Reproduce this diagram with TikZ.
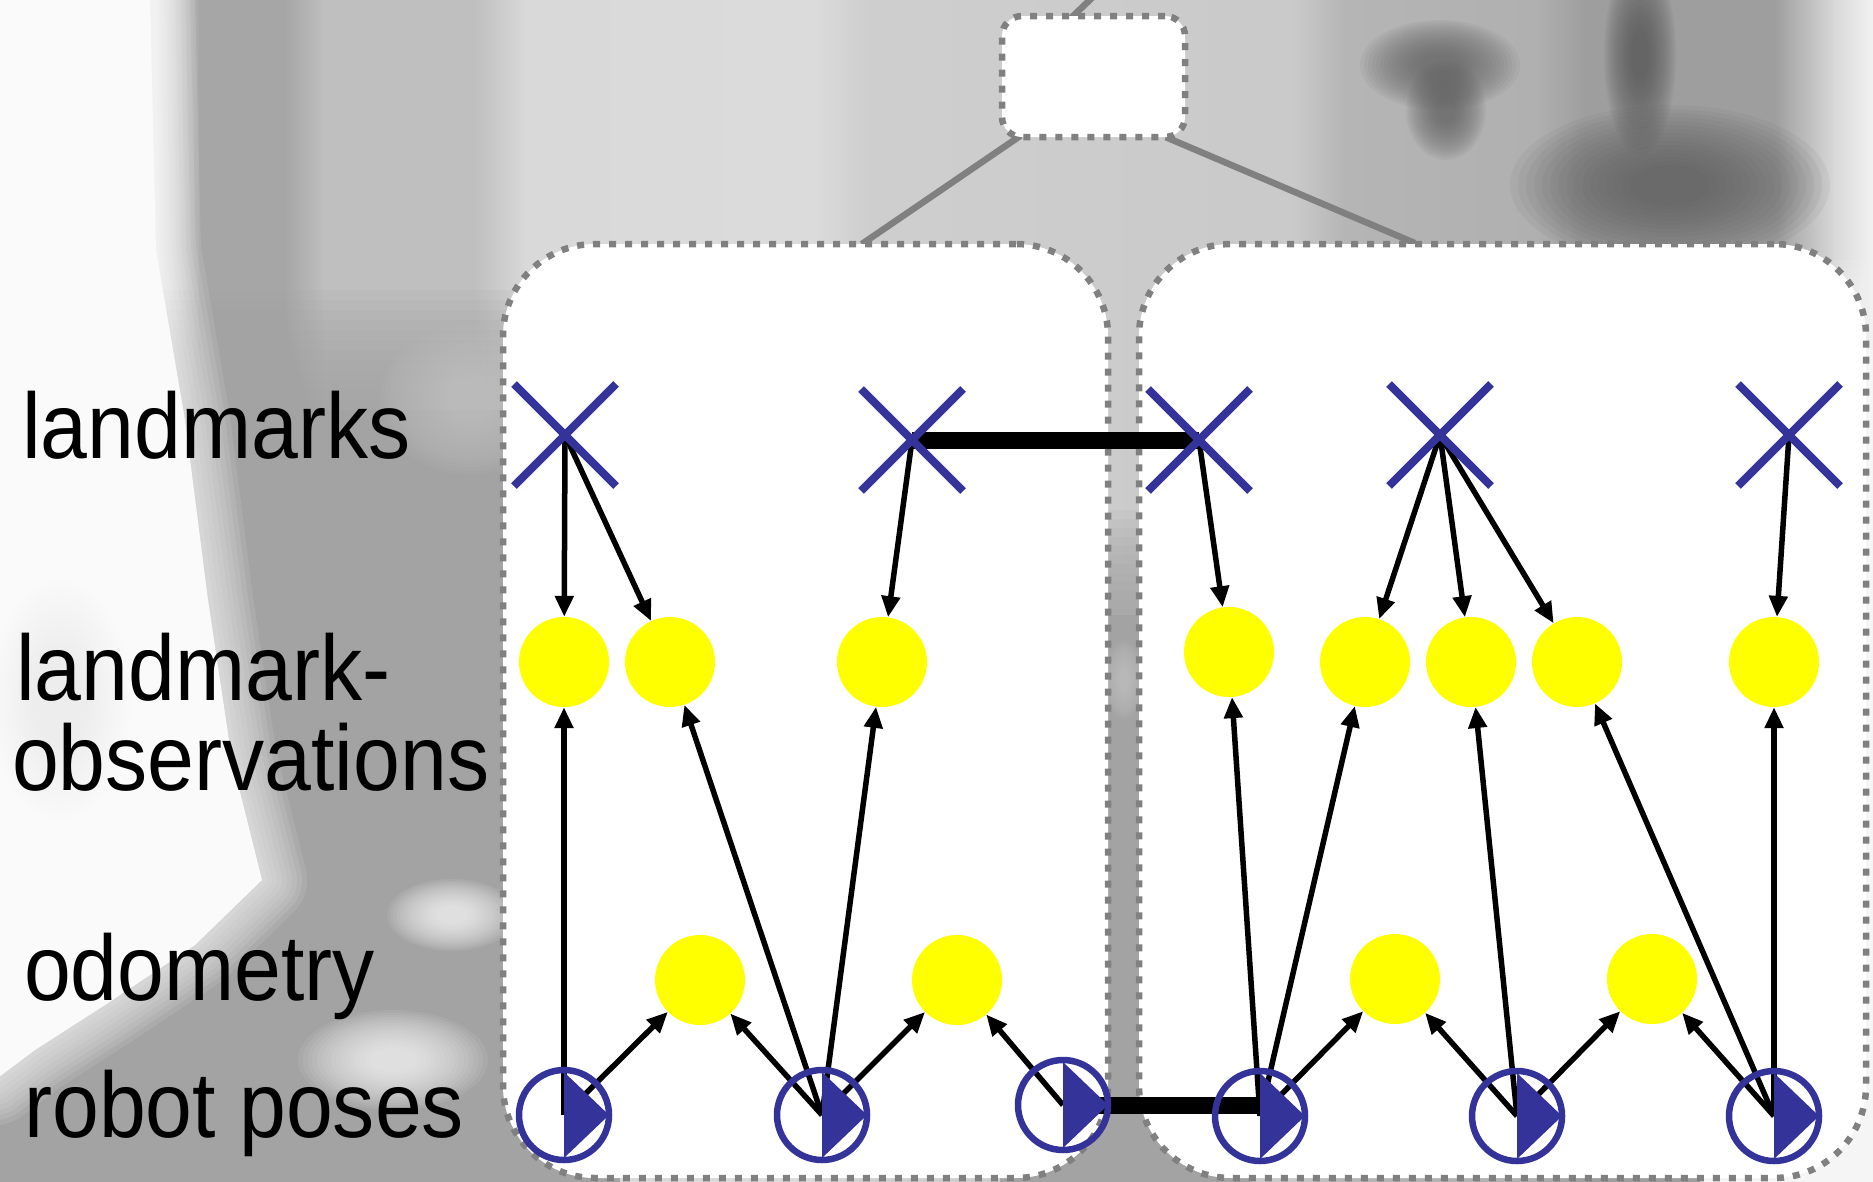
\documentclass[tikz,border=0pt]{standalone}
\usepackage{fontspec}
\setmainfont{Liberation Sans}
\usepackage{graphicx}
\usetikzlibrary{arrows.meta,shapes.misc,calc}
\definecolor{dkblue}{RGB}{51,51,153}
\definecolor{brdgray}{RGB}{128,128,128}
\definecolor{obsyellow}{RGB}{255,255,0}
\pgfdeclarelayer{bg}
\pgfdeclarelayer{conns}
\pgfdeclarelayer{boxes}
\pgfdeclarelayer{lines}
\pgfsetlayers{bg,conns,boxes,lines,main}
\newcommand{\softblob}[5]{%
  \foreach \s in {1.0,0.95,0.9,0.85,0.8,0.75,0.7,0.65,0.6,0.55,0.5,0.45,0.4,0.35,0.3,0.25}{%
    \fill[#5,opacity=0.075] (#1,#2) ellipse ({#3pt*\s} and {#4pt*\s});}}
\begin{document}
\begin{tikzpicture}[x=1pt,y=-1pt,
  lbl/.style={anchor=base west,inner sep=0pt,font=\fontsize{93}{100}\selectfont},
  lmk/.style={cross out,draw=dkblue,line width=8pt,minimum size=94pt,inner sep=0pt},
  obs/.style={circle,fill=obsyellow,minimum size=90pt,inner sep=0pt},
  pose/.style={circle,draw=dkblue,line width=6.5pt,minimum size=90pt,inner sep=0pt},
  tri/.style={fill=dkblue},
  arr/.style={draw=black,line width=5.5pt,-{Triangle[length=21pt,width=18pt]}},
  link/.style={draw=black,line width=17pt},
  panel/.style={draw=brdgray,fill=white,line width=6.5pt,dash pattern=on 7pt off 9pt,rounded corners=92pt,inner sep=0pt},
  topbox/.style={panel,rounded corners=20pt},
  conn/.style={draw=brdgray,line width=6.5pt}]
\useasboundingbox (0,0) rectangle (1873,1181);

% ---------------- background (blurred photo) ----------------
\begin{pgfonlayer}{bg}
\fill[white!79!black] (-2,-2) rectangle (1875,1183);
\foreach \xa/\ga/\xb/\gb in {0/98/145/98,145/98/200/65,200/65/285/65,285/65/325/75,325/75/475/75,475/75/525/85,525/85/815/86,815/86/865/81,865/81/1295/79,1295/79/1345/71,1345/71/1535/69,1535/69/1585/62,1585/62/1775/62,1775/62/1835/85,1835/85/1873/95}{%
  \shade[left color=white!\ga!black,right color=white!\gb!black] ({\xa-0.5},-2) rectangle ({\xb+0.5},1183);}
% left column darker area
\foreach \i in {0,...,11}{\fill[white!64!black,opacity=0.12] (-2,{290+\i*10}) rectangle (620,1183);}
\fill[white!64!black] (-2,410) rectangle (620,1183);
\softblob{470}{400}{90}{75}{white!78!black}
% white left region with soft edge
\foreach \w in {90,80,70,60,50,40,30,20,10}{%
  \draw[white!98!black,opacity=0.1,line width=\w pt,line join=round] (-5,-5) -- (150,-5) -- (156,250) -- (185,420) -- (208,600) -- (232,760) -- (262,880) -- (195,945) -- (105,1005) -- (35,1050) -- (-5,1080) -- cycle;}
\fill[white!98!black] (-5,-5) -- (150,-5) -- (156,250) -- (185,420) -- (208,600) -- (232,760) -- (262,880) -- (195,945) -- (105,1005) -- (35,1050) -- (-5,1080) -- cycle;
\softblob{393}{1060}{95}{50}{white}
\softblob{452}{915}{65}{36}{white}
\softblob{60}{700}{70}{120}{white!93!black}
% gap between the panels
\foreach \i in {0,...,11}{\fill[white!64!black,opacity=0.12] (1000,{510+\i*9}) rectangle (1250,1183);}
\fill[white!64!black] (1000,615) rectangle (1250,1183);
\softblob{1124}{680}{20}{40}{white!78!black}
% right side light
\foreach \i in {0,...,11}{\fill[white!96!black,opacity=0.14] (1700,{260+\i*8}) rectangle (1875,1183);}
\fill[white!96!black] (1700,350) rectangle (1875,1183);
% dark blobs top right
\softblob{1440}{65}{80}{45}{white!38!black}
\softblob{1446}{110}{40}{50}{white!38!black}
\softblob{1640}{55}{36}{100}{white!33!black}
\softblob{1670}{185}{160}{80}{white!36!black}
\end{pgfonlayer}

% ---------------- boxes ----------------
\begin{pgfonlayer}{boxes}
\node[topbox,minimum width=183pt,minimum height=121pt] (TB) at (1093.5,76.5) {};
\node[panel,minimum width=605pt,minimum height=934pt] (LP) at (805.5,711) {};
\node[panel,minimum width=727pt,minimum height=934pt] (RP) at (1502.5,711) {};
\end{pgfonlayer}

\begin{pgfonlayer}{conns}
\coordinate (up) at (1096,-6);
\draw[conn,shorten <=-8pt] ($(TB.north west)!0.41!(TB.north east)$) -- (up);
\draw[conn,shorten <=-8pt,shorten >=-6pt] ($(TB.south west)!0.08!(TB.south east)$) -- ($(LP.north west)!0.6!(LP.north east)$);
\draw[conn,shorten <=-8pt,shorten >=-6pt] ($(TB.south west)!0.92!(TB.south east)$) -- ($(RP.north west)!0.373!(RP.north east)$);
\end{pgfonlayer}

% ---------------- nodes ----------------
\node[obs] (O1) at (564,662) {};
\node[obs] (O2) at (670,662) {};
\node[obs] (O3) at (882,662) {};
\node[obs] (O4) at (1229,652) {};
\node[obs] (O5) at (1365,662) {};
\node[obs] (O6) at (1471,662) {};
\node[obs] (O7) at (1577,662) {};
\node[obs] (O8) at (1774,662) {};

\node[obs] (D1) at (700,980) {};
\node[obs] (D2) at (957,980) {};
\node[obs] (D3) at (1395,979) {};
\node[obs] (D4) at (1652,979) {};

\node[pose] (P1) at (564,1115) {};
\node[pose] (P2) at (822,1115) {};
\node[pose] (P3) at (1063,1105) {};
\node[pose] (P4) at (1260,1116) {};
\node[pose] (P5) at (1517,1116) {};
\node[pose] (P6) at (1774,1116) {};
\foreach \p in {P1,P2,P3,P4,P5,P6}{%
  \fill[tri] ([shift={(0,-43)}]\p.center) -- ([shift={(45,0)}]\p.center) -- ([shift={(0,43)}]\p.center) -- cycle;}

\node[lmk] (L1) at (565,435) {};
\node[lmk] (L2) at (912,440) {};
\node[lmk] (L3) at (1199,440) {};
\node[lmk] (L4) at (1440,435) {};
\node[lmk] (L5) at (1789,435) {};

\node[lbl] (t1) at (22,458) {\scalebox{0.905}[1]{landmarks}};
\node[lbl] (t2) at (16,700) {\scalebox{0.905}[1]{landmark-}};
\node[lbl] (t3) at (12,790) {\scalebox{0.905}[1]{observations}};
\node[lbl] (t4) at (24,1000) {\scalebox{0.905}[1]{odometry}};
\node[lbl] (t5) at (24,1137) {\scalebox{0.905}[1]{robot poses}};

% ---------------- connectors ----------------
\begin{pgfonlayer}{lines}
\draw[link] (L2.center) -- (L3.center);
\draw[link] (P3.center) -- (P3.center -| P4.center);
% landmarks -> observations
\draw[arr] (L1.center) -- (O1);
\draw[arr] (L1.center) -- (O2);
\draw[arr] (L2.center) -- (O3);
\draw[arr] (L3.center) -- (O4);
\draw[arr] (L4.center) -- (O5);
\draw[arr] (L4.center) -- (O6);
\draw[arr] (L4.center) -- (O7);
\draw[arr] (L5.center) -- (O8);
% poses -> observations
\draw[arr] (P1.center) -- (O1);
\draw[arr] (P2.center) -- (O2);
\draw[arr] (P2.center) -- (O3);
\draw[arr] (P4.center) -- (O4);
\draw[arr] (P4.center) -- (O5);
\draw[arr] (P5.center) -- (O6);
\draw[arr] (P6.center) -- (O7);
\draw[arr] (P6.center) -- (O8);
% poses -> odometry
\draw[arr] (P1.center) -- (D1);
\draw[arr] (P2.center) -- (D1);
\draw[arr] (P2.center) -- (D2);
\draw[arr] (P3.center) -- (D2);
\draw[arr] (P4.center) -- (D3);
\draw[arr] (P5.center) -- (D3);
\draw[arr] (P5.center) -- (D4);
\draw[arr] (P6.center) -- (D4);
\end{pgfonlayer}
\end{tikzpicture}
\end{document}
